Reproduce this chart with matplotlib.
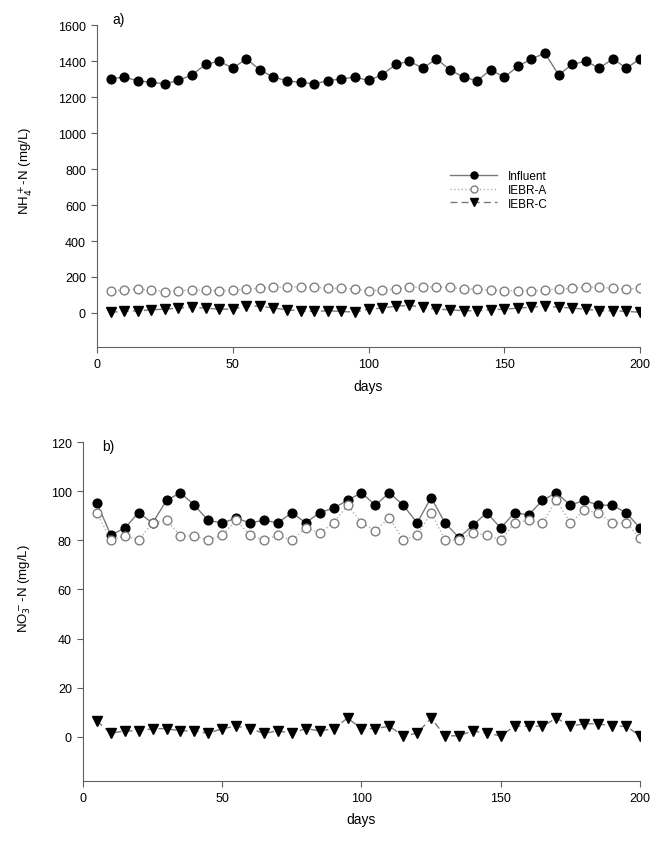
import matplotlib
matplotlib.use("Agg")
import matplotlib.pyplot as plt

plt.rcParams['font.family'] = ['Liberation Sans', 'DejaVu Sans']

days = list(range(5, 205, 5))

# panel a) NH4+-N (mg/L)
nh4_influent = [1302, 1311, 1291, 1282, 1274, 1293, 1324, 1382, 1400, 1361,
                1413, 1352, 1311, 1291, 1282, 1274, 1291, 1302, 1311, 1293,
                1324, 1382, 1400, 1361, 1413, 1352, 1311, 1291, 1352, 1311,
                1371, 1413, 1444, 1324, 1382, 1400, 1361, 1413, 1361, 1413]
nh4_iebr_a = [122, 128, 133, 128, 119, 124, 128, 128, 124, 128,
              133, 137, 143, 143, 147, 143, 137, 137, 133, 124,
              128, 133, 143, 143, 147, 143, 133, 133, 128, 124,
              124, 124, 128, 133, 137, 143, 143, 137, 133, 137]
nh4_iebr_c = [4, 9, 12, 18, 21, 27, 32, 27, 21, 21,
              38, 38, 27, 18, 12, 9, 12, 9, 4, 21,
              27, 38, 42, 32, 21, 18, 12, 12, 18, 21,
              27, 32, 38, 32, 27, 21, 12, 12, 9, 4]

# panel b) NO3--N (mg/L)
no3_influent = [95.3, 82.1, 85.0, 91.3, 87.0, 96.3, 99.4, 94.3, 88.1, 87.1,
                89.0, 87.1, 88.2, 87.1, 91.3, 87.1, 91.3, 93.1, 96.3, 99.4,
                94.3, 99.4, 94.3, 87.1, 97.4, 87.1, 81.1, 86.1, 91.3, 85.0,
                91.3, 90.3, 96.3, 99.4, 94.3, 96.3, 94.3, 94.3, 91.3, 85.0]
no3_iebr_a = [91.3, 80.1, 81.8, 80.1, 87.1, 88.2, 81.8, 81.8, 80.1, 82.1,
              88.2, 82.1, 80.1, 82.1, 80.1, 85.0, 83.0, 87.1, 94.3, 87.1,
              83.9, 89.2, 80.1, 82.1, 91.3, 80.1, 80.1, 83.0, 82.1, 80.1,
              87.1, 88.2, 87.1, 96.3, 87.1, 92.3, 91.3, 87.1, 87.1, 81.1]
no3_iebr_c = [6.4, 1.4, 2.4, 2.4, 3.3, 3.3, 2.4, 2.4, 1.4, 3.3,
              4.3, 3.3, 1.4, 2.4, 1.4, 3.3, 2.4, 3.3, 7.6, 3.3,
              3.3, 4.3, 0.4, 1.4, 7.6, 0.4, 0.4, 2.4, 1.4, 0.4,
              4.3, 4.3, 4.3, 7.6, 4.3, 5.3, 5.3, 4.3, 4.3, 0.4]

series_labels = ['Influent', 'IEBR-A', 'IEBR-C']
line_col = '#7a7a7a'

fig = plt.figure(figsize=(6.69, 8.45), dpi=100)
ax1 = fig.add_axes([0.145, 0.588, 0.8117, 0.381])
ax2 = fig.add_axes([0.124, 0.0746, 0.8326, 0.401])


def draw(ax, infl, a, c):
    ax.plot(days, infl, '-', color=line_col, lw=1.0, marker='o', ms=6.3,
            mfc='black', mec='black', label=series_labels[0])
    ax.plot(days, a, ':', color='#b0b0b0', lw=1.0, marker='o', ms=6.3,
            mfc='white', mec='#808080', mew=1.0, label=series_labels[1])
    ax.plot(days, c, '--', dashes=(5, 3), color=line_col, lw=1.0, marker='v',
            ms=6.5, mfc='black', mec='black', label=series_labels[2])
    for s in ['top', 'right']:
        ax.spines[s].set_visible(False)
    for s in ['left', 'bottom']:
        ax.spines[s].set_color('#606060')
    ax.tick_params(direction='out', length=4, color='#606060',
                   labelsize=9, pad=4)
    ax.set_xlim(0, 200)
    ax.set_xticks([0, 50, 100, 150, 200])
    ax.set_xlabel('days', fontsize=10, labelpad=6)


draw(ax1, nh4_influent, nh4_iebr_a, nh4_iebr_c)
ax1.set_ylim(-190, 1600)
ax1.set_yticks(range(0, 1601, 200))
ax1.set_ylabel('NH$_4^+$-N (mg/L)', fontsize=9.5, labelpad=6)
ax1.yaxis.set_label_coords(-0.115, 0.55)
ax1.text(0.028, 1.02, 'a)', transform=ax1.transAxes, fontsize=10,
         ha='left', va='center')
ax1.legend(loc='upper left', bbox_to_anchor=(0.65, 0.55), frameon=False,
           fontsize=8.5, labelspacing=0.15, handlelength=4.0,
           handletextpad=0.9, borderpad=0, borderaxespad=0, markerscale=0.8)

draw(ax2, no3_influent, no3_iebr_a, no3_iebr_c)
ax2.set_ylim(-18, 120)
ax2.set_yticks(range(0, 121, 20))
ax2.set_ylabel('NO$_3^-$-N (mg/L)', fontsize=9.5, labelpad=6)
ax2.yaxis.set_label_coords(-0.09, 0.57)
ax2.text(0.035, 0.99, 'b)', transform=ax2.transAxes, fontsize=10,
         ha='left', va='center')

fig.savefig('out.png', dpi=100)
